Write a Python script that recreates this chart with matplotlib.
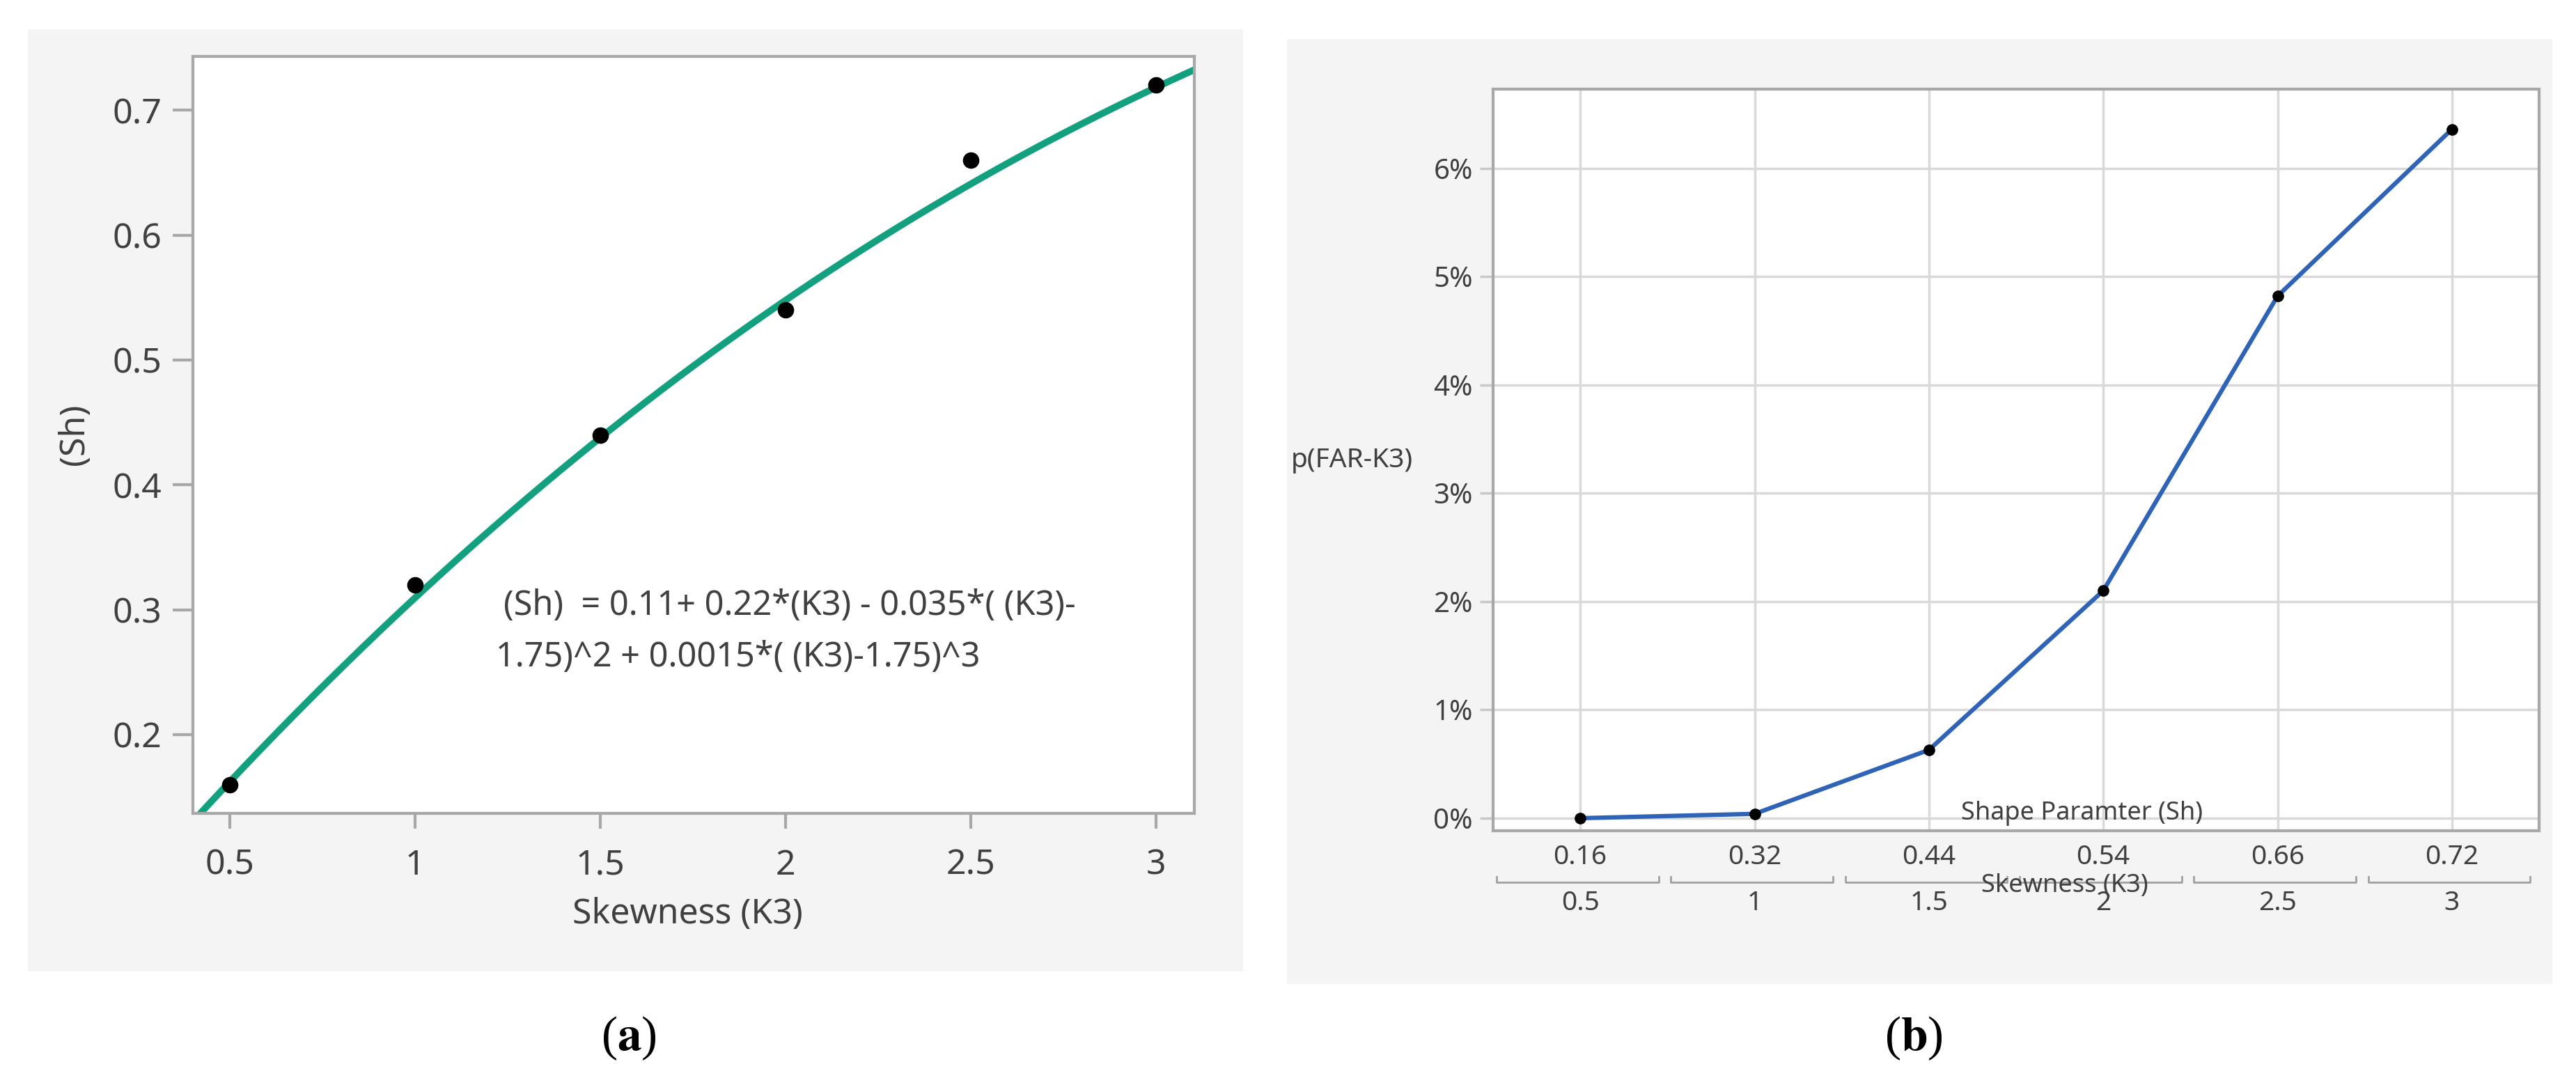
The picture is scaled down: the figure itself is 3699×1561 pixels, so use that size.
import numpy as np
import matplotlib
matplotlib.use("Agg")
import matplotlib.pyplot as plt
from matplotlib.patches import Rectangle
from matplotlib.ticker import FuncFormatter, PercentFormatter
import matplotlib.transforms as mtransforms

# datos panel (a)
k3 = [0.5, 1, 1.5, 2, 2.5, 3]
sh = [0.16, 0.32, 0.44, 0.54, 0.66, 0.72]
# (Sh) = c0 + c1*K3 + c2*(K3-1.75)^2 + c3*(K3-1.75)^3
fit_coef = [0.11, 0.22, -0.035, 0.0015]
fit_center = 1.75
eq_lines = ["(Sh)  = 0.11+ 0.22*(K3) - 0.035*( (K3)-",
            "1.75)^2 + 0.0015*( (K3)-1.75)^3"]

# datos panel (b)
sh_labels = ["0.16", "0.32", "0.44", "0.54", "0.66", "0.72"]
k3_labels = ["0.5", "1", "1.5", "2", "2.5", "3"]
p_far = [0.0, 0.04, 0.63, 2.1, 4.82, 6.36]   # en %

W, H = 3699, 1561
plt.rcParams['font.family'] = ['Noto Sans', 'DejaVu Sans']
fig = plt.figure(figsize=(W / 100, H / 100), dpi=100)
fig.patch.set_facecolor('white')


def fx(px):
    return px / W


def fy(py):
    return 1 - py / H


def caja(x0, y0, x1, y1):
    return [fx(x0), fy(y1), (x1 - x0) / W, (y1 - y0) / H]


txt = '#404040'
gris = '#a8a8a8'

# fondos grises de cada panel
for (x0, y0, x1, y1) in [(40, 42, 1785, 1395), (1848, 56, 3665, 1413)]:
    fig.patches.append(Rectangle((fx(x0), fy(y1)), (x1 - x0) / W, (y1 - y0) / H,
                                 transform=fig.transFigure, facecolor='#f4f4f4',
                                 edgecolor='none', zorder=-5))

# ---------- (a) ----------
ax1 = fig.add_axes(caja(277, 81, 1715, 1168))
ax1.set_zorder(1)
ax1.set_facecolor('white')
xf = np.linspace(0.40, 3.103, 300)
yf = (fit_coef[0] + fit_coef[1] * xf + fit_coef[2] * (xf - fit_center) ** 2
      + fit_coef[3] * (xf - fit_center) ** 3)
ax1.plot(xf, yf, color='#12a07f', lw=7, zorder=2, solid_capstyle='butt')
ax1.plot(k3, sh, 'o', color='black', ms=16, zorder=3)
ax1.set_xlim(0.40, 3.103)
ax1.set_ylim(0.137, 0.743)
ax1.set_xticks(k3)
ax1.set_yticks([0.2, 0.3, 0.4, 0.5, 0.6, 0.7])
ax1.xaxis.set_major_formatter(FuncFormatter(lambda v, p: '%g' % v))
ax1.yaxis.set_major_formatter(FuncFormatter(lambda v, p: '%g' % v))
ax1.tick_params(axis='x', length=16, width=3, color=gris, pad=20,
                labelsize=36, labelcolor=txt)
ax1.tick_params(axis='y', length=21, width=3, color=gris, pad=11,
                labelsize=36, labelcolor=txt)
for s in ax1.spines.values():
    s.set_color(gris)
    s.set_linewidth(3)
for i, line in enumerate(eq_lines):
    fig.text(fx(723 - 11 * (i > 0)), fy(870 + 74 * i), line, fontsize=35,
             color=txt, ha='left', va='center', zorder=5)
fig.text(fx(987), fy(1313), 'Skewness (K3)', fontsize=36, color=txt,
         ha='center', va='center')
fig.text(fx(107), fy(624), '(Sh)', fontsize=36, color=txt, rotation=90,
         ha='center', va='center')

# ---------- (b) ----------
ax2 = fig.add_axes(caja(2144, 128, 3646, 1193))
ax2.set_zorder(1)
ax2.set_facecolor('white')
xs = np.arange(len(sh_labels))
ax2.plot(xs, p_far, '-', color='#2f63b5', lw=4.5, zorder=2)
ax2.plot(xs, p_far, 'o', color='black', ms=11, zorder=3)
ax2.set_xlim(-0.5, len(sh_labels) - 0.5)
ax2.set_ylim(-0.116, 6.73)
ax2.set_xticks(xs)
ax2.set_xticklabels(sh_labels)
ax2.set_yticks(range(0, 7))
ax2.yaxis.set_major_formatter(PercentFormatter(xmax=100, decimals=0))
ax2.grid(True, color='#d9d9d9', lw=2.5, zorder=0)
ax2.set_axisbelow(True)
ax2.tick_params(axis='x', length=0, pad=14, labelsize=28, labelcolor=txt)
ax2.tick_params(axis='y', length=14, width=2.5, color='#c8c8c8', pad=7,
                labelsize=29, labelcolor=txt)
for s in ax2.spines.values():
    s.set_color(gris)
    s.set_linewidth(3)

trb = mtransforms.blended_transform_factory(ax2.transData, ax2.transAxes)
ah = 1193 - 128
y_br = -(1267 - 1193) / ah
y_br_end = -(1259 - 1193) / ah
y_row2 = -(1297 - 1193) / ah
for i, lab in enumerate(k3_labels):
    ax2.plot([i - 0.48, i - 0.48, i + 0.45, i + 0.45],
             [y_br_end, y_br, y_br, y_br_end], color='#a0a0a0', lw=2,
             transform=trb, clip_on=False)
    ax2.text(i, y_row2, lab, transform=trb, ha='center', va='center',
             fontsize=28, color=txt)
ax2.text(2.78, -(1272 - 1193) / ah, 'Skewness (K3)', transform=trb,
         ha='center', va='center', fontsize=26, color=txt)
ax2.text(2.876, (1193 - 1168) / ah, 'Shape Paramter (Sh)', transform=trb,
         ha='center', va='center', fontsize=26, color=txt)
fig.text(fx(1854), fy(661), 'p(FAR-K3)', fontsize=28, color=txt,
         ha='left', va='center')

# etiquetas (a) y (b)
for xp, let in [(903, 'a'), (2748, 'b')]:
    fig.text(fx(xp), fy(1491), r'($\mathbf{' + let + '}$)',
             fontsize=50, ha='center', va='center',
             family='Liberation Serif', math_fontfamily='stix')

fig.savefig('out.png', dpi=100, facecolor='white')
